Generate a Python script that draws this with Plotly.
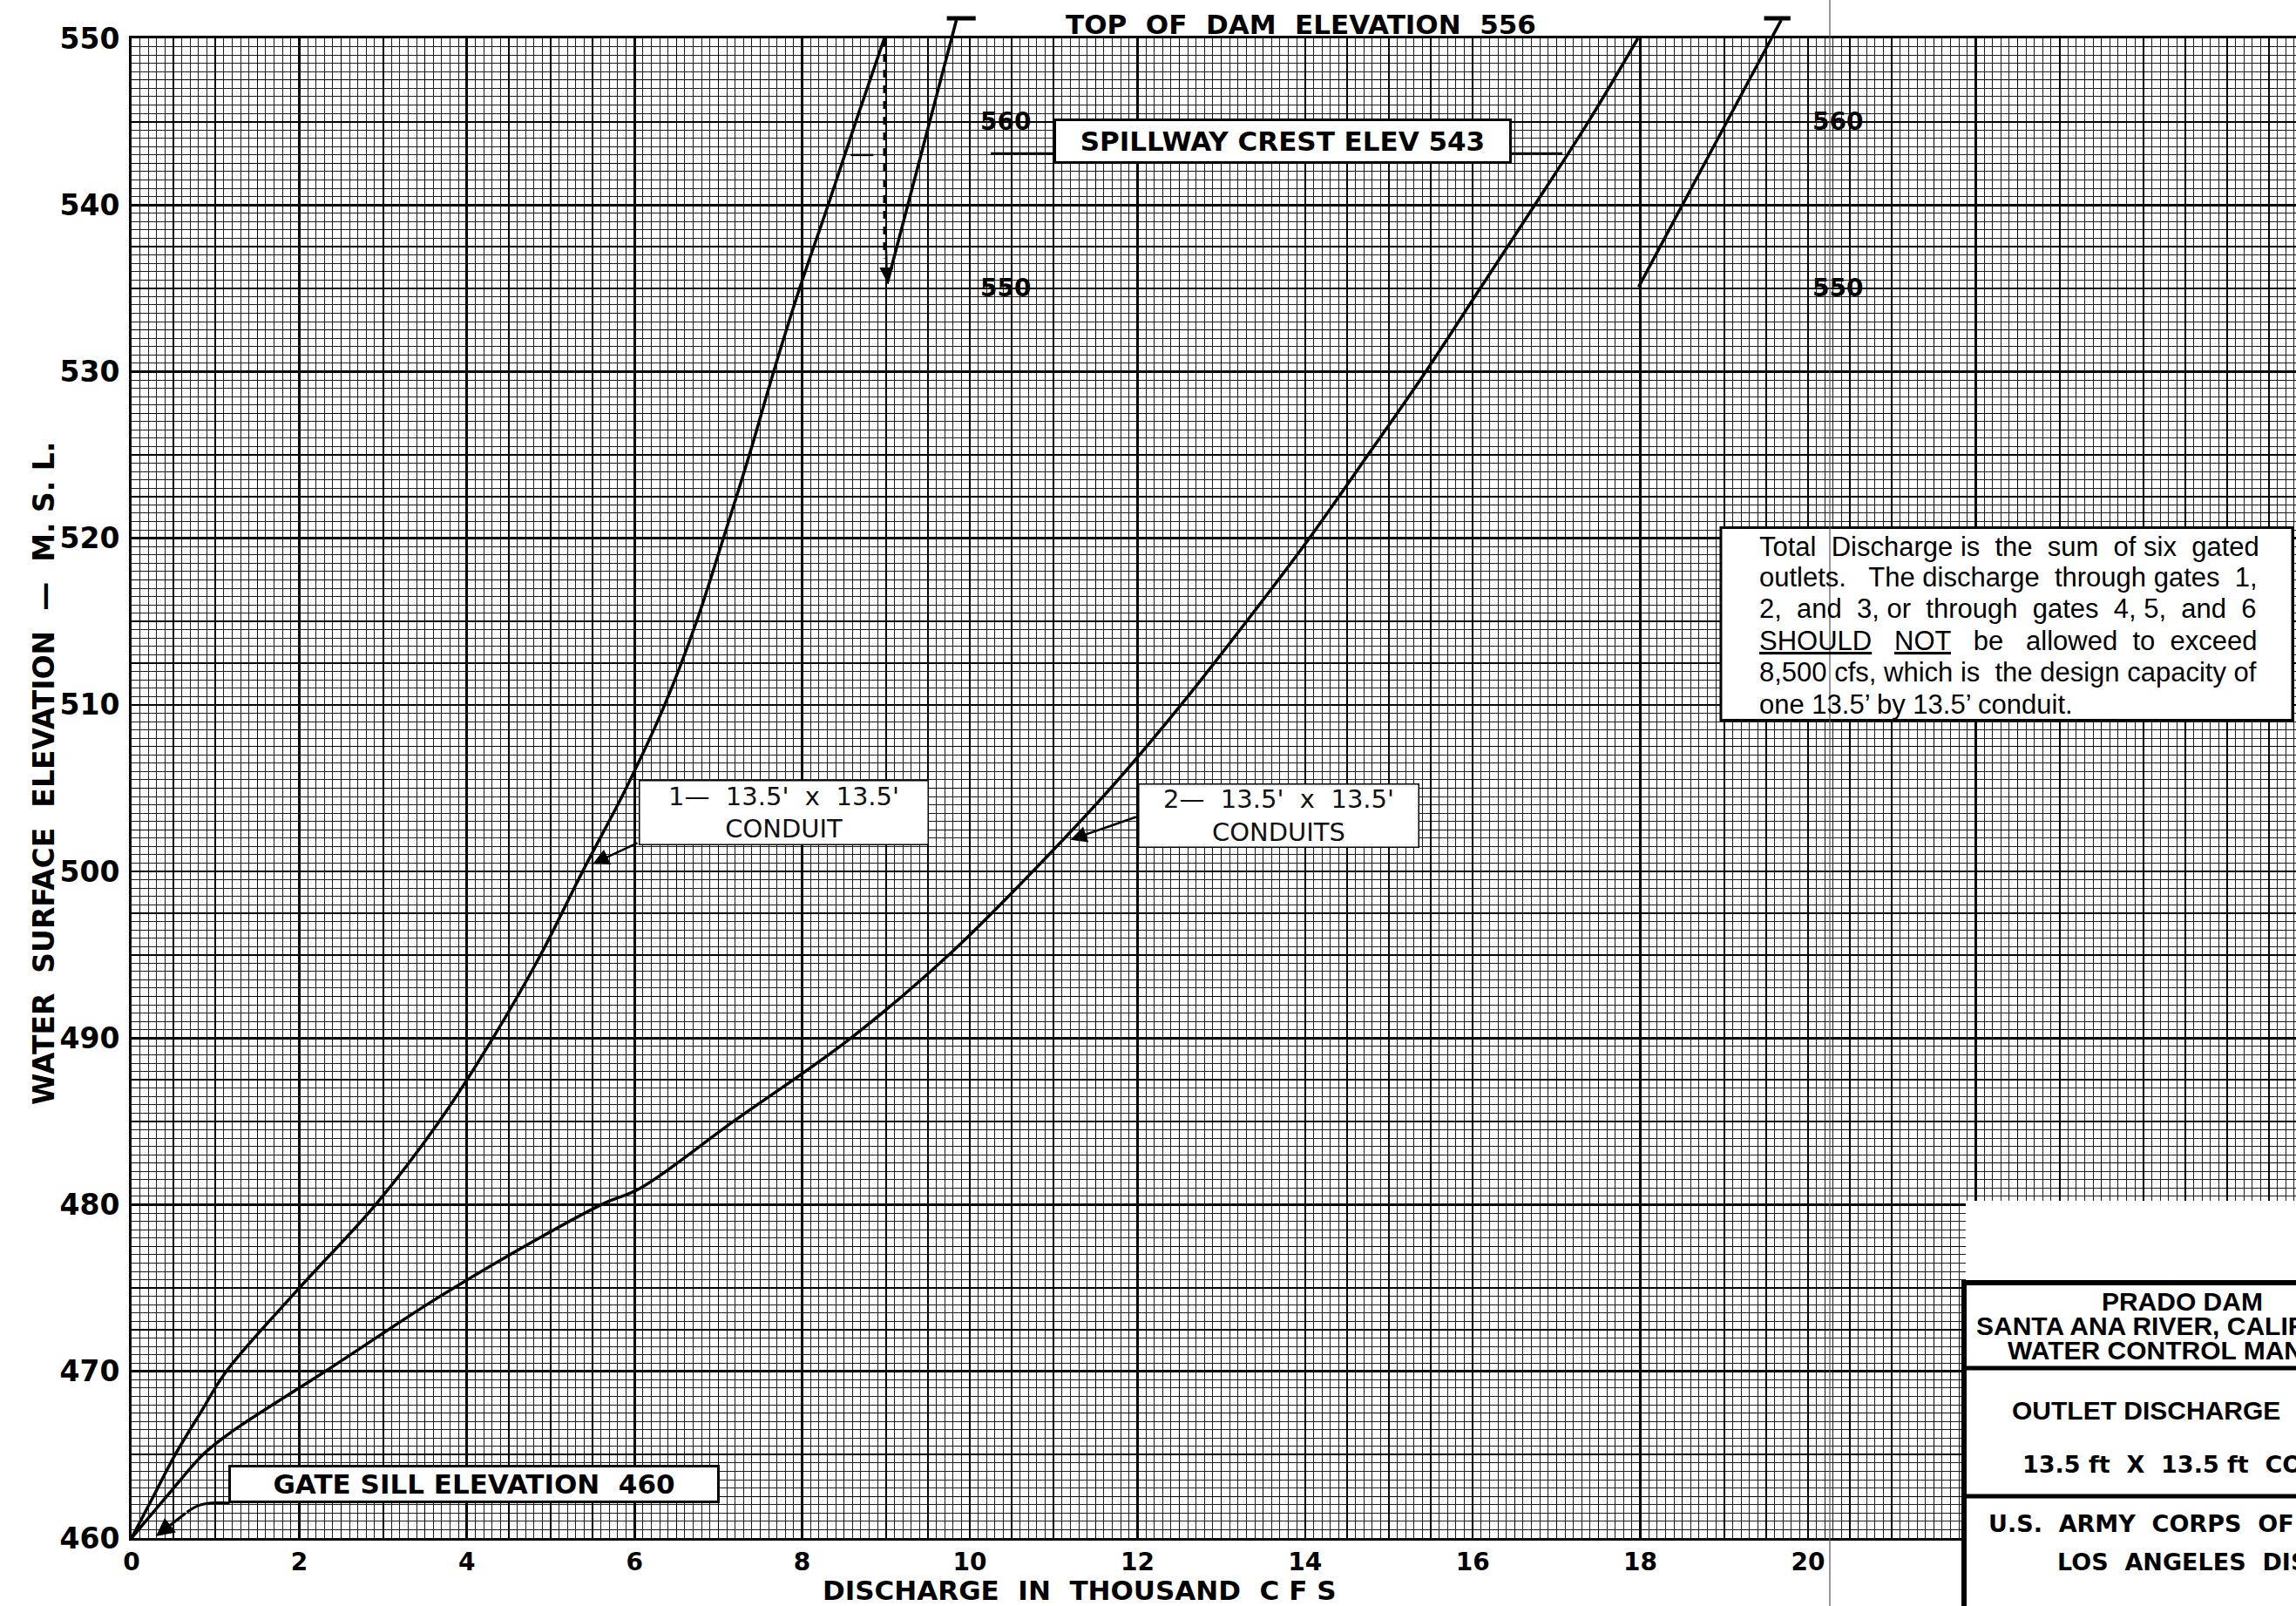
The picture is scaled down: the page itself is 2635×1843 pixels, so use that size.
import re
import plotly.graph_objects as go

# ---------------- data ----------------
# 1 - 13.5' x 13.5' conduit : water surface elevation vs discharge (thousand cfs)
elev_one = [460, 462.5, 465, 467.5, 470, 475, 480, 485, 490, 495, 500, 505, 510,
            515, 520, 525, 530, 535, 540, 545, 550]
q_one = [0.0, 0.26, 0.52, 0.82, 1.13, 2.00, 2.91, 3.67, 4.31, 4.88, 5.38, 5.90, 6.36,
         6.74, 7.06, 7.37, 7.66, 7.97, 8.31, 8.64, 8.98]

# 2 - 13.5' x 13.5' conduits
elev_two = [460, 462.5, 465, 466.4, 470, 475, 480, 481, 485, 490, 495, 500, 505,
            510, 515, 520, 525, 530, 535, 540, 545, 550]
q_two = [0.0, 0.42, 0.85, 1.20, 2.31, 3.84, 5.60, 6.07, 7.18, 8.58, 9.75, 10.75, 11.68,
         12.52, 13.30, 14.05, 14.75, 15.44, 16.09, 16.74, 17.38, 17.97]

# continuation of each curve above 550 (plotted on the offset 550-560 scale)
ext_one_q = [9.01, 9.84]
ext_one_elev = [535.2, 551.1]
ext_two_q = [17.97, 19.68]
ext_two_elev = [535.0, 551.1]
tbar_one_q = [9.71, 10.07]
tbar_two_q = [19.46, 19.79]
tbar_elev = 551.2

# offset scale labels
sec_labels = ["550", "560"]
sec_elev = [535, 545]
sec_x = [10.1, 20.03]

x_tick_vals = [0, 2, 4, 6, 8, 10, 12, 14, 16, 18, 20, 22, 24]
x_tick_text = ["0", "2", "4", "6", "8", "10", "12", "14", "16", "18", "20", "", ""]
y_tick_vals = [460, 470, 480, 490, 500, 510, 520, 530, 540, 550]
y_tick_text = ["460", "470", "480", "490", "500", "510", "520", "530", "540", "550"]

note_lines = [
    "Total Discharge is the sum of six gated",
    "outlets.  The discharge through gates 1,",
    "2, and 3, or through gates 4, 5, and 6",
    "SHOULD NOT be allowed to exceed",
    "8,500 cfs, which is the design capacity of",
    "one 13.5\u2019 by 13.5\u2019 conduit.",
]
note_underlined = ["SHOULD", "NOT"]
note_px_y = [627, 662, 698, 735, 772, 808]

title_block_head = ["PRADO DAM", "SANTA ANA RIVER, CALIFORNIA", "WATER CONTROL MANUAL"]

# ---------------- geometry ----------------
W, H = 2635, 1843
ML, MR, MT, MB = 151, 0, 44, 78
X_RANGE = [0, (W - ML - MR) / 96.2]
Y_RANGE = [460, 550]


def px_x(px):
    return (px - ML) / (W - ML - MR)


def px_y(py):
    return (H - MB - py) / (H - MT - MB)


def ydom(e):
    return (e - Y_RANGE[0]) / (Y_RANGE[1] - Y_RANGE[0])


LETTER = "DejaVu Sans"
NOTE = "Liberation Sans, Arial, sans-serif"
NOTE_SIZE = 31
NOTE_LEFT, NOTE_RIGHT = 2017, 2591

# Arial / Liberation Sans advance widths (1/1000 em) for justification estimate
AW = {" ": 278, ".": 278, ",": 278, "\u2019": 222, "'": 191}
for ch in "0123456789":
    AW[ch] = 556
AW.update({"a": 556, "b": 556, "c": 500, "d": 556, "e": 556, "f": 278, "g": 556, "h": 556,
           "i": 222, "j": 222, "k": 500, "l": 222, "m": 833, "n": 556, "o": 556, "p": 556,
           "q": 556, "r": 333, "s": 500, "t": 278, "u": 556, "v": 500, "w": 722, "x": 500,
           "y": 500, "z": 500, "T": 611, "D": 722, "S": 667, "H": 722, "O": 778, "U": 722,
           "L": 556, "N": 722})


def est(s, size):
    return sum(AW.get(c, 556) for c in s) / 1000.0 * size


def justify(line, size, width, last=False, underline=()):
    toks = re.split(r"( +)", line)
    words = toks[0::2]
    gaps = [len(g) for g in toks[1::2]]
    if not last and gaps:
        sp = est(" ", size)
        base = sum(est(w, size) for w in words)
        extra = 0
        while base + (sum(gaps) + extra + 1) * sp - sp / 2 < width:
            extra += 1
        G = len(gaps)
        for k in range(extra):
            gaps[int((k + 0.5) * G / extra) % G if extra <= G else k % G] += 1
    out = []
    for i, w in enumerate(words):
        out.append("<span style='text-decoration:underline'>%s</span>" % w if w in underline else w)
        if i < len(gaps):
            out.append(" " * gaps[i])
    return "".join(out)


fig = go.Figure()

# anchor trace for main subplot
fig.add_trace(go.Scatter(x=[None], y=[None], xaxis="x", yaxis="y",
                         showlegend=False, hoverinfo="skip"))

curve_line = dict(color="black", width=3.5, shape="spline", smoothing=1.0)
fig.add_trace(go.Scatter(x=q_one, y=elev_one, mode="lines", line=curve_line,
                         xaxis="x2", yaxis="y2", showlegend=False, name="1 conduit"))
fig.add_trace(go.Scatter(x=q_two, y=elev_two, mode="lines", line=curve_line,
                         xaxis="x2", yaxis="y2", showlegend=False, name="2 conduits"))

# auxiliary small lines
aux = dict(mode="lines", xaxis="x2", yaxis="y2", showlegend=False, hoverinfo="skip")
fig.add_trace(go.Scatter(x=[q_one[-1], q_one[-1]], y=[550, 536.8],
                         line=dict(color="black", width=2.8, dash="dash"), **aux))
fig.add_trace(go.Scatter(x=[8.58, 8.85], y=[543.0, 543.0],
                         line=dict(color="black", width=2.5), **aux))
fig.add_trace(go.Scatter(x=[10.25, 11.01], y=[543.1, 543.1],
                         line=dict(color="black", width=2.5), **aux))
fig.add_trace(go.Scatter(x=[16.45, 17.07], y=[543.1, 543.1],
                         line=dict(color="black", width=2.5), **aux))
fig.add_trace(go.Scatter(x=[1.17, 0.95, 0.80, 0.66], y=[462.1, 462.1, 461.95, 461.55],
                         line=dict(color="black", width=3, shape="spline"), **aux))

annotations = []


def arrow(x, y, ax, ay, head=2, width=2.5, size=1.4, yref="y"):
    return dict(x=x, y=y, ax=ax, ay=ay, xref="x", yref=yref, axref="x", ayref=yref,
                text="", showarrow=True, arrowhead=head, arrowwidth=width,
                arrowsize=size, arrowcolor="black", standoff=0, startstandoff=0)


# curve continuations (extend above plot top) and T bars
annotations.append(arrow(ext_one_q[1], ydom(ext_one_elev[1]), ext_one_q[0], ydom(ext_one_elev[0]),
                         head=0, width=3.5, yref="y domain"))
annotations.append(arrow(ext_two_q[1], ydom(ext_two_elev[1]), ext_two_q[0], ydom(ext_two_elev[0]),
                         head=0, width=3.5, yref="y domain"))
annotations.append(arrow(tbar_one_q[1], ydom(tbar_elev), tbar_one_q[0], ydom(tbar_elev),
                         head=0, width=5, yref="y domain"))
annotations.append(arrow(tbar_two_q[1], ydom(tbar_elev), tbar_two_q[0], ydom(tbar_elev),
                         head=0, width=5, yref="y domain"))
# arrow at bottom of dashed line
annotations.append(arrow(9.01, 535.4, 9.0, 537.6, head=2, width=2.5, size=1.3))
# label leaders
annotations.append(arrow(5.50, 500.45, 6.05, 501.75, head=2, width=2.5, size=1.5))
annotations.append(arrow(11.20, 501.9, 12.0, 503.3, head=2, width=2.5, size=1.5))
annotations.append(arrow(0.29, 460.1, 0.66, 461.55, head=2, width=3, size=1.4))


def box(x, y, text, w, h, size, border=3, family=LETTER, weight="bold", color="black"):
    return dict(x=x, y=y, xref="x", yref="y", text=text, showarrow=False,
                width=w, height=h, align="center", valign="middle",
                bgcolor="white", bordercolor="black", borderwidth=border, borderpad=0,
                font=dict(family=family, size=size, color=color, weight=weight))


annotations.append(box(13.73, 543.85, "SPILLWAY CREST ELEV 543", 520, 46, 31))
annotations.append(box(4.085, 463.26, "GATE SILL ELEVATION  460", 558, 38, 31))
annotations.append(box(7.785, 503.55, "1\u2014  13.5'  x  13.5'<br>CONDUIT", 330, 72, 29,
                       border=1.5, weight="normal", color="#111"))
annotations.append(box(13.68, 503.36, "2\u2014  13.5'  x  13.5'<br>CONDUITS", 320, 71, 29,
                       border=1.5, weight="normal", color="#111"))

# offset-scale labels
for xs in sec_x:
    for lab, ev in zip(sec_labels, sec_elev):
        annotations.append(dict(x=xs, y=ev, xref="x", yref="y", text=lab, showarrow=False,
                                xanchor="left", yanchor="middle",
                                font=dict(family=LETTER, size=28, color="black", weight="bold")))

# top of dam
annotations.append(dict(x=13.95, y=px_y(27.5), xref="x", yref="paper",
                        text="TOP  OF  DAM  ELEVATION  556", showarrow=False,
                        xanchor="center", yanchor="middle",
                        font=dict(family=LETTER, size=31, color="black", weight="bold")))

# axis titles
annotations.append(dict(x=11.3, y=px_y(1825), xref="x", yref="paper",
                        text="DISCHARGE  IN  THOUSAND  C F S", showarrow=False,
                        xanchor="center", yanchor="middle",
                        font=dict(family=LETTER, size=31, color="black", weight="bold")))
annotations.append(dict(x=px_x(50), y=px_y(888), xref="paper", yref="paper",
                        text="WATER  SURFACE  ELEVATION  \u2014  M. S. L.", showarrow=False,
                        textangle=-90, xanchor="center", yanchor="middle",
                        font=dict(family=LETTER, size=33, color="black", weight="bold")))

# note text lines (justified like the original)
for i, (line, py) in enumerate(zip(note_lines, note_px_y)):
    txt = justify(line, NOTE_SIZE, NOTE_RIGHT - NOTE_LEFT, last=(i == len(note_lines) - 1),
                  underline=note_underlined)
    annotations.append(dict(x=px_x(NOTE_LEFT), y=px_y(py), xref="paper", yref="paper",
                            text=txt, showarrow=False, xanchor="left", yanchor="middle",
                            font=dict(family=NOTE, size=NOTE_SIZE, color="black")))

# title block text
TB = "Liberation Sans, Arial, sans-serif"
head_txt = "<br>".join("<span style='font-size:30px'>%s</span>" % t for t in title_block_head)
annotations.append(dict(x=px_x(2504), y=px_y(1521), xref="paper", yref="paper", text=head_txt,
                        showarrow=False, xanchor="center", yanchor="middle", align="center",
                        font=dict(family=TB, size=21.5, color="black", weight="bold")))
tb_items = [
    ("OUTLET DISCHARGE", 2307, 1618, TB, 30),
    ("13.5 ft  X  13.5 ft  CONDUITS", 2319, 1680, LETTER, 27),
    ("U.S.  ARMY  CORPS  OF  ENGINEERS", 2280, 1748, LETTER, 27),
    ("LOS  ANGELES  DISTRICT", 2359, 1793, LETTER, 27),
]
for txt, px, py, fam, sz in tb_items:
    annotations.append(dict(x=px_x(px), y=px_y(py), xref="paper", yref="paper", text=txt,
                            showarrow=False, xanchor="left", yanchor="middle",
                            font=dict(family=fam, size=sz, color="black", weight="bold")))

shapes = [
    # note box
    dict(type="rect", xref="x", yref="y", x0=18.96, x1=25.78, y0=509.08, y1=520.64,
         fillcolor="white", line=dict(color="black", width=3), layer="above"),
    # fold line of the scanned sheet
    dict(type="line", xref="paper", yref="paper", x0=px_x(2100), x1=px_x(2100),
         y0=px_y(H + 5), y1=px_y(-5), line=dict(color="#555", width=1.2), layer="above"),
    # title block
    dict(type="rect", xref="paper", yref="paper", x0=px_x(2256), x1=1.01,
         y0=px_y(H + 5), y1=px_y(1378), fillcolor="white", line=dict(width=0), layer="above"),
    dict(type="line", xref="paper", yref="paper", x0=px_x(2254), x1=px_x(2254),
         y0=px_y(H + 5), y1=px_y(1469), line=dict(color="black", width=6), layer="above"),
    dict(type="line", xref="paper", yref="paper", x0=px_x(2251), x1=1.01,
         y0=px_y(1472), y1=px_y(1472), line=dict(color="black", width=6), layer="above"),
    dict(type="line", xref="paper", yref="paper", x0=px_x(2254), x1=1.01,
         y0=px_y(1570), y1=px_y(1570), line=dict(color="black", width=5), layer="above"),
    dict(type="line", xref="paper", yref="paper", x0=px_x(2254), x1=1.01,
         y0=px_y(1717), y1=px_y(1717), line=dict(color="black", width=5), layer="above"),
]

FINE = "#1e1e1e"
fig.update_layout(
    width=W, height=H,
    margin=dict(l=ML, r=MR, t=MT, b=MB, pad=0),
    paper_bgcolor="white", plot_bgcolor="white",
    hovermode=False, showlegend=False,
    xaxis=dict(range=X_RANGE, tickmode="array", tickvals=x_tick_vals, ticktext=x_tick_text,
               showgrid=True, gridcolor="black", gridwidth=2.6,
               minor=dict(tickmode="linear", tick0=0, dtick=0.1, showgrid=True,
                          gridcolor=FINE, gridwidth=1, ticks=""),
               showline=True, linecolor="black", linewidth=3, mirror=True,
               ticks="", zeroline=False, ticklabelstandoff=0,
               tickfont=dict(family=LETTER, size=28, color="black", weight="bold")),
    yaxis=dict(range=Y_RANGE, tickmode="array", tickvals=y_tick_vals, ticktext=y_tick_text,
               showgrid=True, gridcolor="black", gridwidth=2.6,
               minor=dict(tickmode="linear", tick0=460, dtick=0.5, showgrid=True,
                          gridcolor=FINE, gridwidth=1, ticks=""),
               showline=True, linecolor="black", linewidth=3, mirror=False,
               ticks="", zeroline=False, ticklabelstandoff=4,
               tickfont=dict(family=LETTER, size=33, color="black", weight="bold")),
    xaxis2=dict(overlaying="x", range=X_RANGE, tickmode="linear", tick0=0, dtick=1,
                showgrid=True, gridcolor="black", gridwidth=1.8,
                minor=dict(tickmode="linear", tick0=0, dtick=0.5, showgrid=True,
                           gridcolor="black", gridwidth=1.3, ticks=""),
                showticklabels=False, ticks="", showline=False, zeroline=False),
    yaxis2=dict(overlaying="y", range=Y_RANGE, tickmode="linear", tick0=460, dtick=5,
                showgrid=True, gridcolor="black", gridwidth=1.8,
                minor=dict(tickmode="linear", tick0=460, dtick=2.5, showgrid=True,
                           gridcolor="black", gridwidth=1.3, ticks=""),
                showticklabels=False, ticks="", showline=False, zeroline=False),
    annotations=annotations,
    shapes=shapes,
)

fig.write_html("out.html", config={"displayModeBar": False, "staticPlot": True},
               post_script="document.body.style.margin='0';document.body.style.overflow='hidden';")
